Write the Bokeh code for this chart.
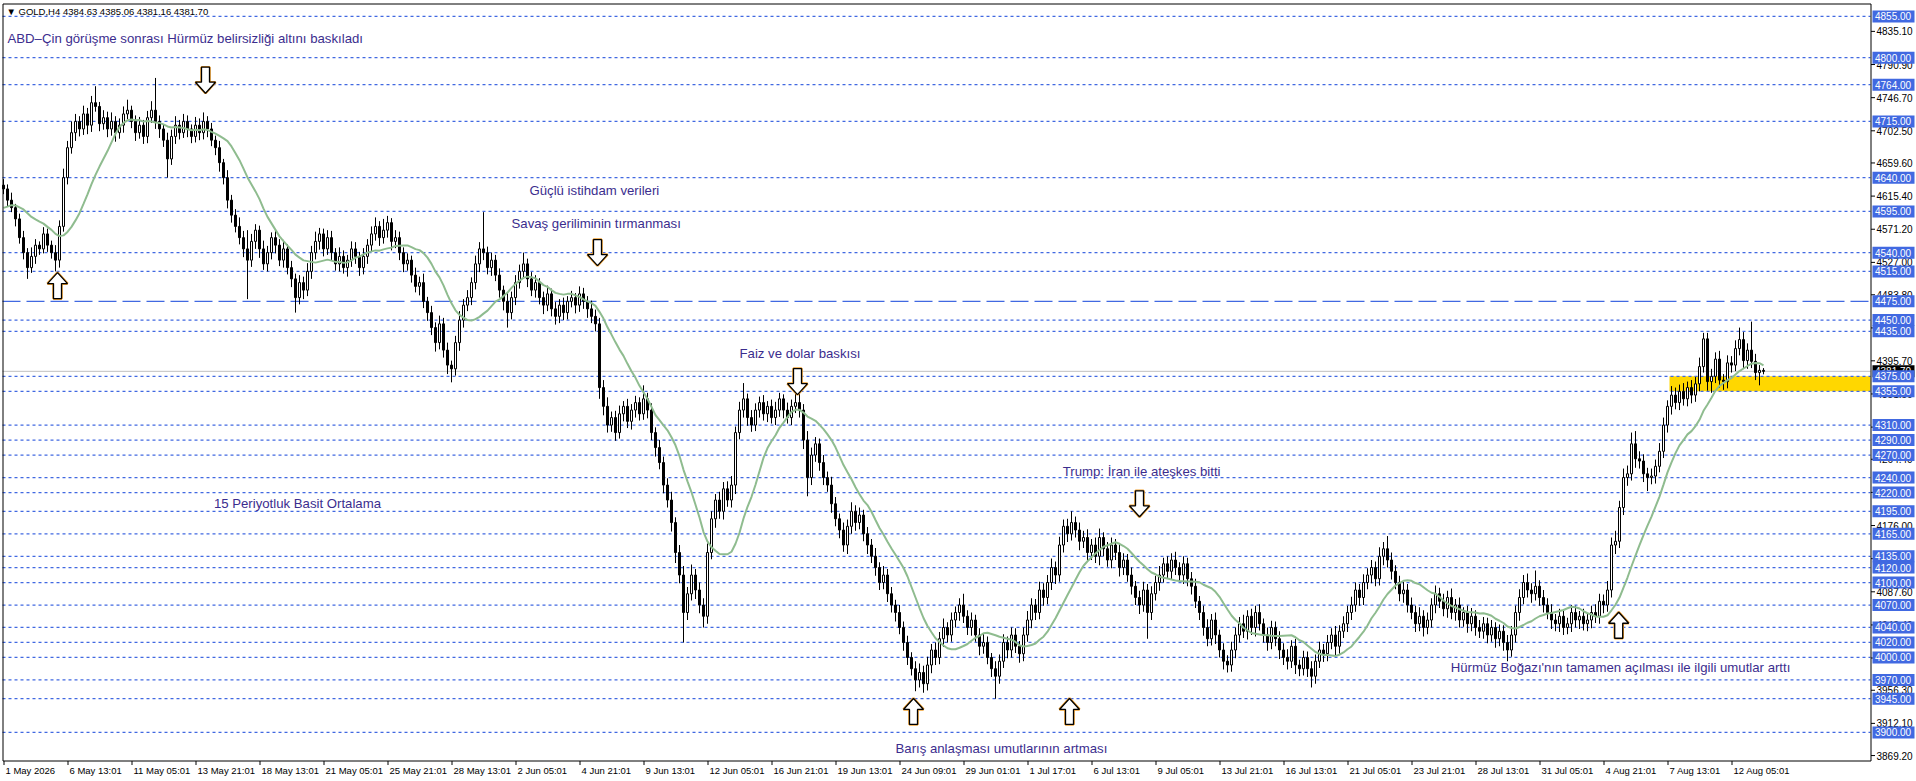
import pandas as pd
from bokeh.plotting import figure
from bokeh.models import Range1d
from bokeh.core.properties import value
from bokeh.embed import file_html
from bokeh.resources import INLINE

# ---------------- data ----------------
header_symbol = "GOLD,H4"
header_ohlc = [4384.63, 4385.06, 4381.16, 4381.70]

first_open = 4630.0
closes = [
    4625, 4610, 4600, 4585, 4560, 4540, 4520, 4535, 4550, 4545,
    4565, 4550, 4540, 4530, 4575, 4640, 4680, 4700, 4715, 4705,
    4725, 4710, 4740, 4735, 4712, 4720, 4705, 4715, 4700, 4710,
    4725, 4730, 4715, 4700, 4710, 4695, 4720, 4730, 4715, 4705,
    4690, 4665, 4695, 4710, 4700, 4715, 4705, 4695, 4710, 4700,
    4715, 4705, 4690, 4680, 4660, 4640, 4610, 4590, 4575, 4560,
    4545, 4530, 4555, 4570, 4545, 4525, 4540, 4560, 4550, 4530,
    4545, 4520, 4505, 4480, 4500, 4490, 4515, 4540, 4555, 4565,
    4545, 4560, 4540, 4525, 4535, 4520, 4530, 4545, 4535, 4520,
    4535, 4550, 4565, 4575, 4560, 4570, 4580, 4555, 4560, 4540,
    4525, 4530, 4510, 4495, 4500, 4475, 4460, 4440, 4420, 4445,
    4410, 4390, 4385, 4420, 4450, 4470, 4480, 4500, 4525, 4545,
    4540, 4520, 4530, 4510, 4490, 4475, 4460, 4480, 4500, 4515,
    4525, 4505, 4490, 4500, 4480, 4470, 4485, 4465, 4455, 4470,
    4460, 4475, 4480, 4470, 4485, 4475, 4465, 4455, 4445, 4360,
    4335, 4310, 4320, 4300, 4325, 4335, 4315, 4330, 4340, 4325,
    4345, 4330, 4300, 4280, 4260, 4230, 4210, 4180, 4140, 4110,
    4060, 4085, 4110, 4090, 4070, 4055, 4140, 4185, 4210, 4195,
    4225, 4210, 4230, 4300, 4330, 4345, 4320, 4310, 4330, 4340,
    4325, 4335, 4320, 4330, 4345, 4330, 4320, 4335, 4340, 4330,
    4290, 4240, 4270, 4285, 4260, 4240, 4230, 4205, 4185, 4170,
    4150, 4175, 4195, 4180, 4190, 4165, 4150, 4135, 4120, 4100,
    4110, 4085, 4070, 4060, 4040, 4020, 4000, 3985, 3970, 3980,
    3965, 3990, 4010, 4000, 4025, 4040, 4030, 4050, 4060, 4070,
    4055, 4040, 4050, 4030, 4015, 4020, 4000, 3985, 3975, 3995,
    4020, 4010, 4030, 4015, 4005, 4030, 4050, 4070, 4060, 4090,
    4080, 4100, 4120, 4110, 4150, 4175, 4165, 4180, 4170, 4155,
    4160, 4140, 4150, 4135, 4160, 4145, 4130, 4150, 4140, 4120,
    4130, 4110, 4095, 4080, 4070, 4090, 4060, 4085, 4100, 4110,
    4125, 4115, 4130, 4120, 4110, 4125, 4105, 4095, 4075, 4060,
    4040, 4025, 4050, 4030, 4010, 3995, 3990, 4010, 4030, 4045,
    4035, 4055, 4040, 4060, 4045, 4030, 4020, 4040, 4025, 4010,
    4000, 3995, 4015, 3990, 3985, 4000, 3985, 3975, 3995, 4010,
    4005, 4020, 4030, 4015, 4035, 4045, 4060, 4070, 4090, 4080,
    4100, 4110, 4120, 4105, 4135, 4145, 4130, 4115, 4100, 4085,
    4090, 4070, 4060, 4045, 4055, 4040, 4050, 4070, 4085, 4075,
    4065, 4080, 4060, 4070, 4050, 4060, 4045, 4055, 4040, 4035,
    4045, 4030, 4040, 4025, 4035, 4020, 4010, 4030, 4060, 4080,
    4100, 4090, 4085, 4095, 4080, 4070, 4060, 4050, 4045, 4055,
    4040, 4045, 4060, 4050, 4055, 4045, 4050, 4060, 4055, 4075,
    4070, 4090, 4150, 4155, 4200, 4240, 4245, 4285, 4265, 4262,
    4245, 4240, 4242, 4255, 4275, 4310, 4335, 4350, 4340, 4355,
    4345, 4360, 4350, 4365, 4388, 4425, 4368, 4375, 4398, 4370,
    4368, 4393, 4390, 4412, 4424, 4396, 4410, 4395, 4380, 4383, 4381.70,
]
wick_up = [
    8, 6, 10, 5, 7, 9, 6, 12, 8, 5,
    9, 7, 6, 10, 8, 12, 9, 15, 10, 7,
    11, 8, 9, 22, 6, 10, 8, 12, 7, 9,
    10, 14, 6, 8, 11, 7, 9, 12, 43, 8,
    6, 10, 9, 12, 7, 10, 8, 6, 11, 9,
    12, 7, 8, 6, 9, 5, 10, 7, 8, 12,
    9, 25, 10, 8, 6, 11, 9, 7, 10, 8,
    12, 6, 9, 7, 10, 8, 11, 9, 13, 8,
    7, 10, 9, 6, 12, 8, 7, 10, 9, 6,
    11, 8, 10, 12, 7, 15, 9, 6, 10, 8,
    7, 9, 6, 10, 8, 12, 6, 9, 7, 11,
    8, 10, 6, 9, 12, 8, 10, 7, 11, 9,
    49, 8, 10, 7, 9, 6, 11, 8, 10, 9,
    15, 7, 9, 10, 6, 8, 11, 7, 9, 8,
    10, 7, 9, 6, 10, 8, 7, 11, 9, 8,
    10, 12, 8, 9, 11, 7, 10, 8, 9, 7,
    18, 8, 9, 7, 10, 8, 9, 11, 7, 10,
    12, 9, 14, 8, 10, 9, 12, 10, 8, 11,
    9, 10, 12, 8, 11, 21, 7, 10, 9, 8,
    10, 7, 9, 11, 8, 6, 10, 9, 12, 35,
    8, 12, 10, 9, 7, 10, 8, 11, 9, 7,
    10, 9, 12, 8, 10, 7, 9, 8, 11, 7,
    12, 8, 9, 7, 10, 8, 9, 7, 10, 12,
    9, 11, 8, 10, 9, 12, 7, 10, 8, 9,
    15, 8, 10, 7, 9, 11, 8, 6, 10, 9,
    11, 8, 10, 9, 7, 10, 12, 9, 8, 11,
    9, 10, 12, 8, 11, 9, 10, 15, 8, 10,
    9, 11, 8, 10, 12, 7, 9, 10, 8, 11,
    9, 8, 10, 7, 9, 11, 8, 10, 9, 12,
    8, 10, 9, 11, 7, 10, 8, 9, 10, 7,
    9, 11, 8, 10, 7, 9, 8, 11, 10, 9,
    12, 8, 10, 9, 11, 7, 10, 9, 8, 10,
    9, 11, 8, 10, 7, 9, 8, 10, 9, 11,
    8, 10, 9, 12, 8, 10, 9, 11, 10, 8,
    11, 9, 10, 8, 12, 9, 17, 10, 8, 9,
    11, 8, 10, 9, 12, 8, 10, 9, 11, 8,
    10, 9, 12, 8, 10, 7, 9, 11, 8, 10,
    9, 8, 10, 7, 9, 8, 10, 12, 9, 11,
    10, 12, 9, 21, 8, 10, 9, 11, 8, 10,
    9, 8, 10, 9, 7, 10, 8, 9, 11, 10,
    9, 12, 10, 14, 9, 12, 11, 15, 17, 10,
    9, 8, 10, 9, 11, 10, 8, 12, 10, 9,
    11, 8, 10, 9, 12, 8, 8, 10, 9, 11,
    8, 10, 9, 11, 16, 10, 9, 38, 10, 7, 3,
]
wick_down = [
    7, 9, 6, 10, 8, 9, 15, 7, 10, 8,
    6, 9, 8, 15, 10, 7, 9, 8, 11, 10,
    8, 12, 9, 7, 10, 8, 11, 9, 12, 8,
    10, 7, 9, 11, 8, 10, 9, 7, 10, 12,
    9, 25, 8, 10, 9, 7, 11, 9, 8, 10,
    9, 11, 8, 10, 12, 9, 11, 10, 8, 9,
    11, 52, 9, 10, 12, 8, 10, 9, 11, 8,
    10, 9, 11, 20, 9, 12, 8, 10, 9, 11,
    10, 8, 11, 9, 10, 8, 12, 9, 10, 11,
    9, 10, 8, 9, 11, 8, 10, 12, 9, 10,
    11, 9, 10, 8, 12, 9, 11, 10, 12, 9,
    10, 12, 18, 9, 11, 10, 8, 10, 9, 11,
    10, 9, 11, 8, 10, 12, 20, 9, 10, 8,
    9, 11, 8, 10, 9, 12, 8, 10, 11, 9,
    10, 9, 8, 11, 9, 10, 12, 9, 10, 15,
    12, 10, 9, 11, 8, 10, 9, 11, 10, 9,
    8, 11, 10, 12, 9, 11, 10, 12, 14, 11,
    40, 10, 9, 12, 11, 15, 10, 9, 12, 10,
    11, 9, 10, 12, 9, 10, 11, 9, 8, 10,
    9, 11, 8, 10, 9, 11, 8, 10, 9, 10,
    12, 25, 10, 9, 11, 10, 9, 12, 10, 11,
    9, 12, 10, 11, 9, 10, 12, 9, 11, 10,
    9, 11, 10, 12, 9, 11, 10, 9, 15, 10,
    12, 9, 11, 10, 9, 11, 10, 9, 10, 11,
    9, 10, 11, 9, 12, 10, 9, 11, 30, 10,
    9, 11, 10, 9, 12, 10, 9, 11, 10, 9,
    11, 9, 10, 12, 9, 10, 11, 9, 10, 12,
    9, 11, 10, 9, 12, 10, 9, 11, 10, 12,
    10, 9, 11, 10, 12, 9, 35, 10, 9, 11,
    10, 9, 11, 10, 9, 12, 10, 11, 9, 10,
    11, 10, 9, 12, 10, 11, 10, 9, 11, 10,
    9, 11, 10, 12, 9, 10, 11, 9, 10, 12,
    10, 11, 9, 12, 10, 9, 11, 15, 10, 9,
    11, 10, 9, 12, 10, 9, 11, 10, 9, 11,
    10, 9, 11, 10, 9, 12, 10, 11, 9, 10,
    12, 10, 9, 11, 10, 12, 9, 10, 11, 9,
    10, 12, 9, 11, 10, 9, 12, 10, 11, 9,
    10, 11, 9, 12, 10, 11, 15, 9, 10, 11,
    9, 10, 12, 9, 11, 10, 9, 12, 10, 11,
    10, 9, 11, 10, 12, 9, 10, 11, 9, 10,
    11, 9, 10, 12, 9, 10, 11, 9, 12, 10,
    11, 18, 9, 10, 8, 9, 10, 11, 9, 10,
    9, 10, 11, 9, 10, 8, 12, 15, 9, 10,
    11, 9, 10, 8, 9, 10, 11, 9, 10, 17, 4,
]
ma_warmup = [4585, 4570, 4590, 4600, 4580, 4595, 4610, 4600, 4590, 4605, 4615, 4600, 4610, 4620]
ma_period = 15

time_labels = [
    "1 May 2026", "6 May 13:01", "11 May 05:01", "13 May 21:01", "18 May 13:01",
    "21 May 05:01", "25 May 21:01", "28 May 13:01", "2 Jun 05:01", "4 Jun 21:01",
    "9 Jun 13:01", "12 Jun 05:01", "16 Jun 21:01", "19 Jun 13:01", "24 Jun 09:01",
    "29 Jun 01:01", "1 Jul 17:01", "6 Jul 13:01", "9 Jul 05:01", "13 Jul 21:01",
    "16 Jul 13:01", "21 Jul 05:01", "23 Jul 21:01", "28 Jul 13:01", "31 Jul 05:01",
    "4 Aug 21:01", "7 Aug 13:01", "12 Aug 05:01",
]
bars_per_label = 16

levels = [4855, 4800, 4764, 4715, 4640, 4595, 4540, 4515, 4475, 4450, 4435,
          4375, 4355, 4310, 4290, 4270, 4240, 4220, 4195, 4165, 4135, 4120,
          4100, 4070, 4040, 4020, 4000, 3970, 3945, 3900]
long_dash_level = 4475
axis_ticks = [4835.10, 4790.90, 4746.70, 4702.50, 4659.60, 4615.40, 4571.20,
              4527.00, 4483.80, 4439.60, 4395.70, 4351.50, 4307.30, 4264.40,
              4220.20, 4176.00, 4131.80, 4087.60, 4043.40, 3999.30, 3956.30,
              3912.10, 3869.20]
bid_price = 4381.70
zone_start_bar = 416.5
zone_low, zone_high = 4355, 4375

note_texts = [
    "ABD\u2013Çin görüşme sonrası Hürmüz belirsizliği altını baskıladı",
    "Güçlü istihdam verileri",
    "Savaş geriliminin tırmanması",
    "Faiz ve dolar baskısı",
    "15 Periyotluk Basit Ortalama",
    "Trump: İran ile ateşkes bitti",
    "Barış anlaşması umutlarının artması",
    "Hürmüz Boğazı'nın tamamen açılması ile ilgili umutlar arttı",
]
note_bars = [1.0, 131.5, 127.0, 184.0, 52.6, 264.8, 223.0, 361.8]
note_prices = [4825.7, 4623.5, 4579.5, 4405.0, 4206.0, 4248.6, 3878.6, 3986.0]

arrow_bars = [50.5, 13.5, 148.5, 198.5, 227.5, 266.5, 284.0, 403.8]
arrow_prices = [4770, 4496, 4540, 4368, 3928, 3928, 4205, 4043]
arrow_dirs = ["down", "up", "down", "down", "up", "up", "down", "up"]

# ---------------- layout / styles ----------------
W, H = 1916, 780
CX0, CX1 = 2, 1870      # chart left border / price-axis line (px)
CY0, CY1 = 3, 760       # chart top border / bottom border (px)
chart_left_bar, chart_right_bar = -0.25, 466.75
chart_top_price, chart_bottom_price = 4872.3, 3862.6
ppb = (CX1 - CX0) / (chart_right_bar - chart_left_bar)            # px per bar
ppp = (CY1 - CY0) / (chart_top_price - chart_bottom_price)        # px per price unit

x_start = chart_left_bar - CX0 / ppb
y_end = chart_top_price + CY0 / ppp

LINE_BLUE = "#4169e1"
NOTE_COLOR = "#3b2d8e"
MA_COLOR = "#8fbc8f"
FONT = value("Liberation Sans")

p = figure(width=W, height=H, output_backend="svg", toolbar_location=None,
           x_range=Range1d(x_start, x_start + W / ppb),
           y_range=Range1d(y_end - H / ppp, y_end),
           x_axis_location=None, y_axis_location=None,
           min_border_left=0, min_border_right=0, min_border_top=0, min_border_bottom=0)
p.background_fill_color = "white"
p.border_fill_color = "white"
p.outline_line_color = None
p.grid.visible = False

def bx(px):   # pixel distance -> bar units
    return px / ppb

def py(px):   # pixel distance -> price units
    return px / ppp

# zone (rectangle to the right edge)
p.quad(left=[zone_start_bar], right=[chart_right_bar], bottom=[zone_low], top=[zone_high],
       fill_color="#ffd700", line_color=None)

# level lines
short_lv = [lv for lv in levels if lv != long_dash_level]
p.segment(x0=[chart_left_bar] * len(short_lv), y0=short_lv, x1=[chart_right_bar] * len(short_lv), y1=short_lv,
          line_color=LINE_BLUE, line_width=1.25, line_dash="3 3")
p.segment(x0=[chart_left_bar], y0=[long_dash_level], x1=[chart_right_bar], y1=[long_dash_level],
          line_color=LINE_BLUE, line_width=1.3, line_dash="18 6")
p.segment(x0=[chart_left_bar], y0=[bid_price], x1=[chart_right_bar], y1=[bid_price],
          line_color="#c0c0c0", line_width=1)

# candles
n = len(closes)
idx = list(range(n))
opens = [first_open] + closes[:-1]
highs = [max(o, c) + u for o, c, u in zip(opens, closes, wick_up)]
lows = [min(o, c) - d for o, c, d in zip(opens, closes, wick_down)]
p.segment(x0=idx, y0=lows, x1=idx, y1=highs, line_color="black", line_width=1)
tops = [max(o, c) for o, c in zip(opens, closes)]
bots = [min(o, c) for o, c in zip(opens, closes)]
fills = ["white" if c >= o else "black" for o, c in zip(opens, closes)]
p.vbar(x=idx, width=0.5, top=tops, bottom=bots, fill_color=fills, line_color="black", line_width=1)

# moving average
ma = pd.Series(ma_warmup + closes, dtype=float).rolling(ma_period).mean().iloc[len(ma_warmup):].tolist()
p.line(idx, ma, line_color=MA_COLOR, line_width=2)

# arrows
shape_x = [-4, 4, 4, 10, 0, -10, -4]
shape_y = [13, 13, -2, -2, -13, -2, -2]
axs, ays = [], []
for b, pr, d in zip(arrow_bars, arrow_prices, arrow_dirs):
    sgn = 1 if d == "down" else -1
    axs.append([b + bx(sx) for sx in shape_x])
    ays.append([pr + sgn * py(sy) for sy in shape_y])
p.patches(axs, ays, fill_color=None, line_color="#f0a030", line_width=2.6)
p.patches(axs, ays, fill_color="white", line_color="black", line_width=1.3)

# notes
p.text(x=note_bars, y=note_prices, text=note_texts, text_font=FONT,
       text_font_size="13.2px", text_color=NOTE_COLOR, text_baseline="middle", text_align="left")

# header
header = "\u25bc " + header_symbol + "  " + " ".join(f"{v:.2f}" for v in header_ohlc)
p.text(x=[chart_left_bar + bx(4)], y=[chart_top_price - py(8)], text=[header], text_font=FONT,
       text_font_size="9.5px", text_color="black", text_baseline="middle", text_align="left")

# chart border (left, top, bottom) and price-axis line (right)
x_l = chart_left_bar + bx(0.5)
x_r = chart_right_bar + bx(0.5)
y_t = chart_top_price - py(0.5)
y_b = chart_bottom_price - py(0.5)
p.segment(x0=[x_l, x_l, x_l, x_r],
          y0=[y_b, y_t, y_b, y_b],
          x1=[x_l, x_r, x_r, x_r],
          y1=[y_t, y_t, y_b, y_t],
          line_color="black", line_width=1)

# price scale: ticks + labels
p.segment(x0=[x_r] * len(axis_ticks), y0=axis_ticks,
          x1=[x_r + bx(4)] * len(axis_ticks), y1=axis_ticks,
          line_color="black", line_width=1)
p.text(x=[chart_right_bar + bx(6)] * len(axis_ticks), y=axis_ticks,
       text=[f"{t:.2f}" for t in axis_ticks], text_font=FONT, text_font_size="10px",
       text_color="black", text_baseline="middle", text_align="left")

# time scale: ticks + labels
xticks = [i * bars_per_label for i in range(len(time_labels))]
p.segment(x0=[t + bx(0.5) for t in xticks], y0=[y_b] * len(xticks),
          x1=[t + bx(0.5) for t in xticks], y1=[y_b - py(4)] * len(xticks),
          line_color="black", line_width=1)
p.text(x=[t + bx(2) for t in xticks], y=[chart_bottom_price - py(9.5)] * len(xticks),
       text=time_labels, text_font=FONT, text_font_size="9.5px",
       text_color="black", text_baseline="middle", text_align="left")

# price boxes on the scale
BOX_W, BOX_H = 42, 12
box_x = chart_right_bar + bx(2 + BOX_W / 2)
txt_x = chart_right_bar + bx(4.5)
p.rect(x=[box_x], y=[bid_price], width=BOX_W, height=BOX_H, width_units="screen", height_units="screen",
       fill_color="black", line_color=None)
p.text(x=[txt_x], y=[bid_price], text=[f"{bid_price:.2f}"], text_font=FONT, text_font_size="10px",
       text_color="white", text_baseline="middle", text_align="left")
p.rect(x=[box_x] * len(levels), y=levels, width=BOX_W, height=BOX_H, width_units="screen",
       height_units="screen", fill_color=LINE_BLUE, line_color=None)
p.text(x=[txt_x] * len(levels), y=levels, text=[f"{lv:.2f}" for lv in levels], text_font=FONT,
       text_font_size="10px", text_color="white", text_baseline="middle", text_align="left")

open("out.html", "w").write(file_html(p, INLINE))
